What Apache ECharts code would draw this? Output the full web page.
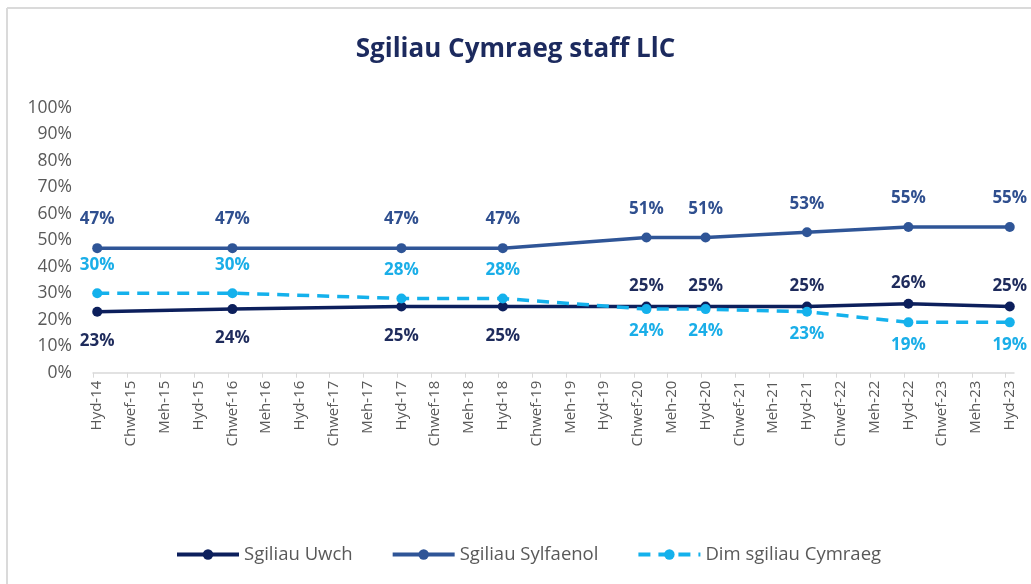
<!DOCTYPE html>
<html><head><meta charset="utf-8">
<script src="https://cdn.jsdelivr.net/npm/echarts@6/dist/echarts.min.js"></script>
<style>html,body{margin:0;padding:0;background:#fff}#c{width:1031px;height:584px}</style>
</head><body><div id="c"></div>
<script>
// ---- data ----
const chartTitle = 'Sgiliau Cymraeg staff LlC';
const tickLabels = ['Hyd-14','Chwef-15','Meh-15','Hyd-15','Chwef-16','Meh-16','Hyd-16','Chwef-17','Meh-17','Hyd-17','Chwef-18','Meh-18','Hyd-18','Chwef-19','Meh-19','Hyd-19','Chwef-20','Meh-20','Hyd-20','Chwef-21','Meh-21','Hyd-21','Chwef-22','Meh-22','Hyd-22','Chwef-23','Meh-23','Hyd-23'];
const surveyMonths = ['2014-10','2016-02','2017-10','2018-10','2020-03','2020-10','2021-10','2022-10','2023-10'];
const seriesNames = ['Sgiliau Uwch','Sgiliau Sylfaenol','Dim sgiliau Cymraeg'];
const uwch = [23,24,25,25,25,25,25,26,25];
const sylfaenol = [47,47,47,47,51,51,53,55,55];
const dim = [30,30,28,28,24,24,23,19,19];
const yTicks = [0,10,20,30,40,50,60,70,80,90,100];

// ---- helpers ----
const startMonth = '2014-10';
function monthIndex(s){const [y,m]=s.split('-').map(Number);const [y0,m0]=startMonth.split('-').map(Number);return (y-y0)*12+(m-m0);}
const monthsPerTick = 4;
const axisMax = (tickLabels.length-1)*monthsPerTick + 1;
const tickValues = tickLabels.map((_,i)=>i*monthsPerTick);
const labelValues = tickLabels.map((_,i)=>i*monthsPerTick+0.5);
const xs = surveyMonths.map(s=>monthIndex(s)+0.5);

const C_UWCH='#0c1f5c', C_SYL='#2f5597', C_DIM='#14b1ec';
const labelFont = {fontFamily:'Open Sans', fontWeight:'bold', fontSize:17};

function build(vals, other, aboveRule, dUp, dDown){
  return vals.map((v,i)=>{
    const up = aboveRule(v, other ? other[i] : null);
    return {value:[xs[i], v], label:{position: up?'top':'bottom', distance: up?dUp:dDown}};
  });
}

const chart = echarts.init(document.getElementById('c'));
chart.setOption({
  animation:false,
  backgroundColor:'#fff',
  title:{text:chartTitle,left:'center',top:32,textStyle:{fontFamily:'Open Sans',fontWeight:'bold',fontSize:26,color:'#1c2a5e'}},
  grid:{left:93,right:17,top:107.7,bottom:211.3},
  graphic:[
    {type:'line',shape:{x1:7,y1:8,x2:1031,y2:8},style:{stroke:'#dadada',lineWidth:2},silent:true},
    {type:'line',shape:{x1:7,y1:8,x2:7,y2:584},style:{stroke:'#dadada',lineWidth:2},silent:true}
  ],
  legend:{
    left:170, top:540, itemWidth:62, itemHeight:13, itemGap:38,
    lineStyle:{width:4},
    textStyle:{fontFamily:'Open Sans',fontSize:18.5,color:'#595959'},
    data:seriesNames
  },
  xAxis:{
    type:'value', min:0, max:axisMax,
    axisLine:{lineStyle:{color:'#d9d9d9',width:1.5}},
    axisTick:{show:true,customValues:tickValues,length:5,lineStyle:{color:'#d9d9d9'}},
    axisLabel:{customValues:labelValues,rotate:90,margin:8,fontFamily:'Open Sans',fontSize:15,color:'#595959',
      formatter:v=>tickLabels[Math.floor(v/monthsPerTick)]||''},
    splitLine:{show:false}
  },
  yAxis:{
    type:'value', min:0, max:100, interval:10,
    axisLine:{show:false}, axisTick:{show:false}, splitLine:{show:false},
    axisLabel:{formatter:'{value}%',margin:21,fontFamily:'Open Sans',fontSize:17.5,color:'#595959'}
  },
  series:[
    {name:seriesNames[0],type:'line',symbol:'circle',symbolSize:10,z:3,
      lineStyle:{color:C_UWCH,width:3.5},itemStyle:{color:C_UWCH},
      label:{show:true,formatter:p=>p.value[1]+'%',color:'#1e2b5c',...labelFont},
      data:build(uwch,dim,(v,o)=>v>o,7,16)},
    {name:seriesNames[1],type:'line',symbol:'circle',symbolSize:10,z:2,
      lineStyle:{color:C_SYL,width:3.5},itemStyle:{color:C_SYL},
      label:{show:true,formatter:p=>p.value[1]+'%',color:'#2f4f8f',...labelFont},
      data:build(sylfaenol,null,()=>true,15,15)},
    {name:seriesNames[2],type:'line',symbol:'circle',symbolSize:10,z:4,
      lineStyle:{color:C_DIM,width:3.5,type:[12,8]},itemStyle:{color:C_DIM},
      label:{show:true,formatter:p=>p.value[1]+'%',color:'#1aaee8',...labelFont},
      data:build(dim,uwch,(v,o)=>v>o,15,9)}
  ]
});
</script></body></html>
